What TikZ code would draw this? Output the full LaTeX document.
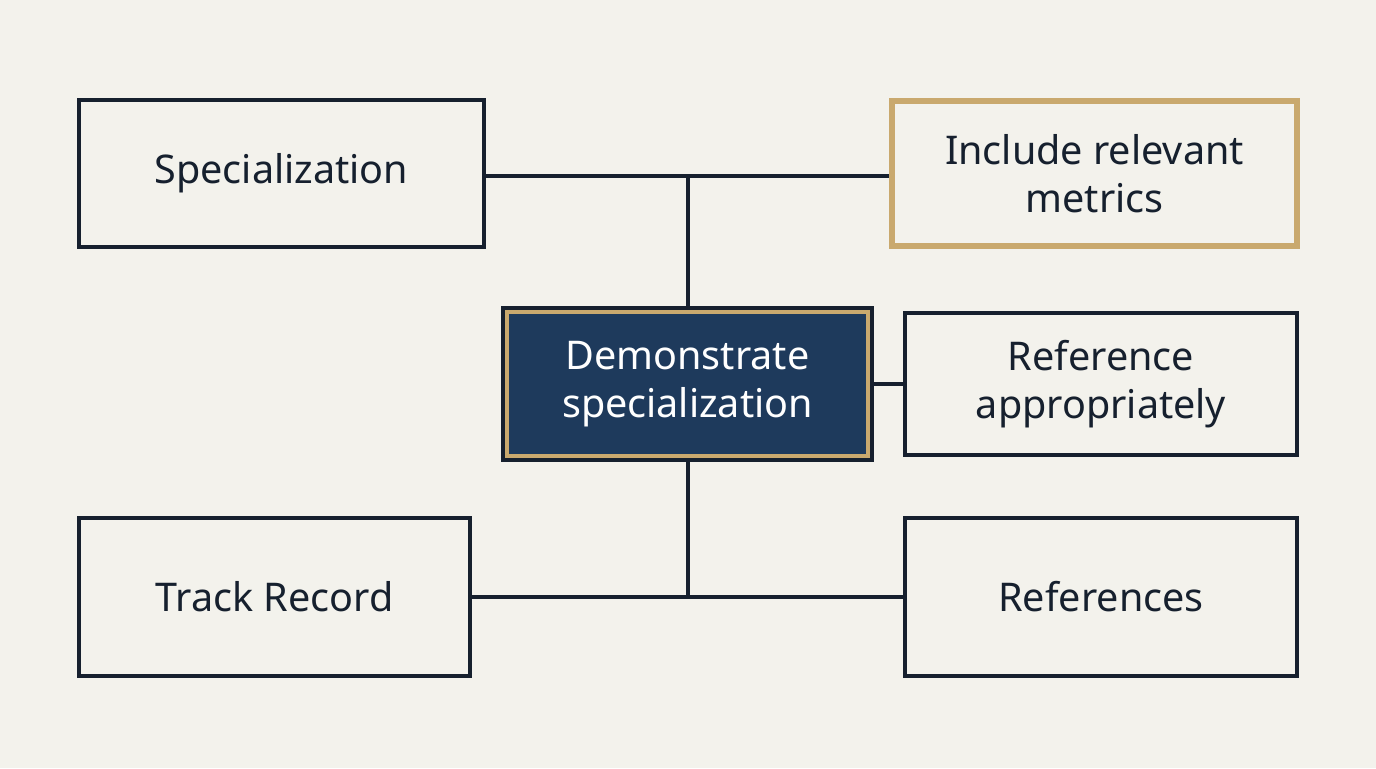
\documentclass[tikz,border=0pt]{standalone}
\usepackage{fontspec}
\setmainfont{Noto Sans}
\definecolor{bgcol}{HTML}{F3F2EC}
\definecolor{inkcol}{HTML}{16202E}
\definecolor{goldcol}{HTML}{C9A96E}
\definecolor{navycol}{HTML}{1E3A5C}
\begin{document}
\begin{tikzpicture}[x=0.02cm,y=-0.02cm,
  box/.style = {draw=inkcol, line width=2.2pt, fill=bgcol, align=center, text=inkcol,
    font=\fontsize{22.5}{27}\selectfont, inner sep=0pt},
  gold/.style = {box, draw=goldcol, line width=3pt},
  link/.style = {draw=inkcol, line width=2.2pt}]
\fill[bgcol] (0,0) rectangle (1376,768);
\node[box, minimum width=405*0.02cm, minimum height=147*0.02cm] (spec) at (281.5,173.5) {Specialization};
\node[gold, minimum width=405*0.02cm, minimum height=145*0.02cm] (metr) at (1094.5,173.5) {Include relevant\\metrics};
\node[box, minimum width=392*0.02cm, minimum height=142*0.02cm] (refa) at (1101,384) {Reference\\appropriately};
\node[box, minimum width=391*0.02cm, minimum height=158*0.02cm] (track) at (274.5,597) {Track Record};
\node[box, minimum width=392*0.02cm, minimum height=158*0.02cm] (refs) at (1101,597) {References};
% central node
\node[box, fill=navycol, minimum width=369*0.02cm, minimum height=152*0.02cm] (demo) at (687.5,384) {};
\draw[goldcol, line width=2.6pt] ([shift={(6,-6)}]demo.south west) rectangle ([shift={(-6,6)}]demo.north east);
\node[text=white, align=center, font=\fontsize{22.5}{27}\selectfont] (demot) at (demo) {Demonstrate\\specialization};
\coordinate (top) at (688,176);
\coordinate (bot) at (688,597);
\draw[link] (spec.east |- top) -- (metr.west |- top);
\draw[link] (top) -- (demo.north -| top);
\draw[link] (demo) -- (refa);
\draw[link] (demo.south -| bot) -- (bot);
\draw[link] (track) -- (refs);
\end{tikzpicture}
\end{document}
